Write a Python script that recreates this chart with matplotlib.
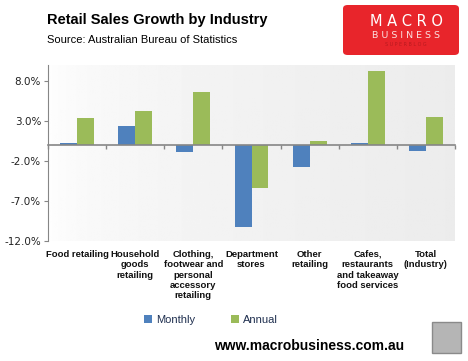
import numpy as np
import matplotlib
matplotlib.use('Agg')
import matplotlib.pyplot as plt
from matplotlib.patches import Rectangle, FancyBboxPatch
import matplotlib.transforms as mtransforms

categories = ['Food retailing', 'Household\ngoods\nretailing',
              'Clothing,\nfootwear and\npersonal\naccessory\nretailing',
              'Department\nstores', 'Other\nretailing',
              'Cafes,\nrestaurants\nand takeaway\nfood services',
              'Total\n(Industry)']
monthly = [0.2, 2.4, -0.9, -10.2, -2.8, 0.3, -0.8]
annual = [3.4, 4.3, 6.6, -5.4, 0.5, 9.3, 3.5]
yticks = [-12, -7, -2, 3, 8]

BLUE = '#4F81BD'
GREEN = '#9BBB59'
FONT = ['Liberation Sans Narrow', 'Liberation Sans', 'DejaVu Sans']

fig = plt.figure(figsize=(4.68, 3.61), dpi=100)
ax = fig.add_axes([48/468, 1-241/361, 407/468, 176/361])

n = len(categories)
x = np.arange(n)
w = 0.29

# plot area gradient background
grad = np.linspace(0, 1, 256) ** 0.5
grad = 1.0 - 0.075 * grad
ax.imshow(np.tile(grad, (2, 1)), cmap='gray', vmin=0, vmax=1, aspect='auto',
          extent=(-0.5, n - 0.5, -12, 10), zorder=0)

ax.bar(x - w/2, monthly, w, color=BLUE, zorder=2, label='Monthly')
ax.bar(x + w/2, annual, w, color=GREEN, zorder=2, label='Annual')

ax.set_xlim(-0.5, n - 0.5)
ax.set_ylim(-12, 10)
ax.set_yticks(yticks)
ax.set_yticklabels(['%.1f%%' % v for v in yticks], fontsize=7.5, color='#222222',
                   family='DejaVu Sans')
ax.tick_params(axis='y', direction='out', length=3, color='#868686', pad=2)

ax.spines['top'].set_visible(False)
ax.spines['right'].set_visible(False)
ax.spines['left'].set_color('#868686')
ax.spines['bottom'].set_position(('data', 0))
ax.spines['bottom'].set_color('#868686')
ax.spines['bottom'].set_linewidth(1.2)
ax.spines['bottom'].set_zorder(3)
ax.set_xticks(np.arange(n + 1) - 0.5)
ax.set_xticklabels([])
ax.tick_params(axis='x', direction='out', length=3, color='#868686', width=1)

trans = mtransforms.blended_transform_factory(ax.transData, ax.transAxes)
for i, c in enumerate(categories):
    ax.text(i, -0.05, c, transform=trans, ha='center', va='top', fontsize=6.8,
            fontweight='bold', family=FONT, color='#111111', linespacing=1.2)

leg = fig.legend(loc='center', bbox_to_anchor=(0.45, 1-320/361), ncol=2,
                 frameon=False, fontsize=8, handlelength=0.8, handleheight=0.8,
                 columnspacing=3.2, handletextpad=0.3, prop={'family': FONT[1:], 'size': 8})
for t in leg.get_texts():
    t.set_color('#1F2F4F')

fig.text(47/468, 1-20/361, 'Retail Sales Growth by Industry', fontsize=10.5,
         fontweight='bold', family=FONT[1:], va='center', ha='left')
fig.text(47/468, 1-40/361, 'Source: Australian Bureau of Statistics', fontsize=8,
         family=FONT[1:], va='center', ha='left')

# logo
logo = FancyBboxPatch((343/468, 1-55/361), 116/468, 50/361,
                      boxstyle='round,pad=0,rounding_size=0.01',
                      transform=fig.transFigure, facecolor='#E8252B',
                      edgecolor='none')
fig.patches.append(logo)
fig.text(406/468, 1-21/361, 'M A C R O', fontsize=10.5, color='white',
         family='DejaVu Sans', ha='center', va='center')
fig.text(406/468, 1-35/361, 'B U S I N E S S', fontsize=6.8, color='#FBE0E0',
         family='DejaVu Sans', ha='center', va='center')
fig.text(406/468, 1-45/361, 'S U P E R B L O G', fontsize=3.5, color='#B81A1F',
         family='DejaVu Sans', ha='center', va='center')

fig.text(309/468, 1-346/361, 'www.macrobusiness.com.au', fontsize=10,
         fontweight='bold', family=FONT[1:], ha='center', va='center')

fox = Rectangle((432/468, 1-353/361), 29/468, 31/361, transform=fig.transFigure,
                facecolor='#B5B5B5', edgecolor='#8A8A8A', linewidth=1)
fig.patches.append(fox)

fig.savefig('out.png', dpi=100)
